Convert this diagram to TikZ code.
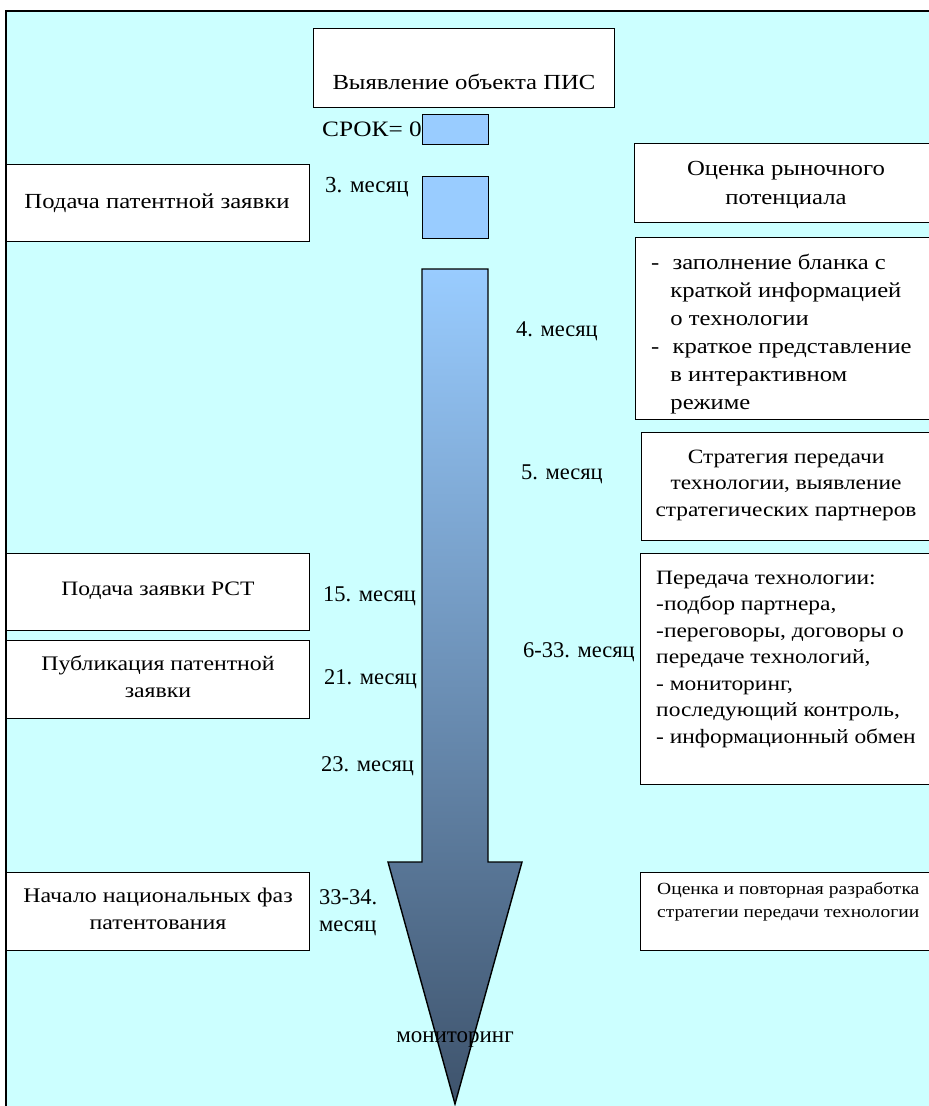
\documentclass[tikz,border=0pt]{standalone}
\usepackage{fontspec}
\setmainfont{Liberation Serif}
\newfontfamily\gar[FakeStretch=1.15]{Liberation Serif}
\definecolor{bgc}{HTML}{CCFFFF}
\definecolor{lblue}{HTML}{99CCFF}
\definecolor{dslate}{HTML}{3E536C}
\begin{document}
\begin{tikzpicture}[x=1pt,y=-1pt,
  box/.style={draw=black,line width=1.4pt,fill=white,inner sep=0pt},
  bluebox/.style={draw=black,line width=1.4pt,fill=lblue,inner sep=0pt},
  txt/.style={inner sep=0pt,align=center},
  mon/.style={inner sep=0pt,font=\fontsize{22.5}{27}\selectfont}]
\useasboundingbox (0,0) rectangle (929,1106);
\clip (0,0) rectangle (929,1106);
\fill[white] (0,0) rectangle (929,1106);
\draw[line width=1.6pt,fill=bgc] (6,11) rectangle (940,1120);
% arrow
\shade[top color=lblue,bottom color=dslate,draw=black,line width=1.4pt]
  (422,269) -- (488,269) -- (488,862) -- (522,862) -- (455,1104) -- (388,862) -- (422,862) -- cycle;
% top
\node[box,minimum width=301,minimum height=79,anchor=north west] (top) at (313,28) {};
\node[txt,font=\gar\fontsize{21.5}{26}\selectfont] (toptext) at (464,82) {Выявление объекта ПИС};
\node[bluebox,minimum width=66,minimum height=30,anchor=north west] (b0) at (422,114) {};
\node[txt,anchor=east,font=\gar\fontsize{22}{26}\selectfont] (srok) at (422,129) {СРОК= 0};
\node[bluebox,minimum width=66,minimum height=62,anchor=north west] (b3) at (422,176) {};
\node[txt,anchor=west,font=\fontsize{23}{26}\selectfont] (m3) at (325,187) {3. месяц};
% left boxes
\node[box,minimum width=303,minimum height=77,anchor=north west] (podacha) at (6,164) {};
\node[txt,font=\gar\fontsize{21.5}{29}\selectfont] (podachatext) at (157,203) {Подача патентной заявки};
\node[box,minimum width=303,minimum height=77,anchor=north west] (pct) at (6,553) {};
\node[txt,font=\gar\fontsize{20.5}{29}\selectfont] (pcttext) at (158,591) {Подача заявки РСТ};
\node[box,minimum width=303,minimum height=78,anchor=north west] (publ) at (6,640) {};
\node[txt,font=\gar\fontsize{20.7}{27}\selectfont] (publtext) at (158,677) {Публикация патентной\\заявки};
\node[box,minimum width=303,minimum height=78,anchor=north west] (nat) at (6,872) {};
\node[txt,font=\gar\fontsize{20.8}{27}\selectfont] (nattext) at (158,909) {Начало национальных фаз\\патентования};
% right boxes
\node[box,minimum width=310,minimum height=79,anchor=north west] (ocenka) at (634,143) {};
\node[txt,font=\gar\fontsize{21.5}{29}\selectfont] (ocenkatext) at (786,185) {Оценка рыночного\\потенциала};
\node[box,minimum width=310,minimum height=182,anchor=north west] (blank) at (635,237) {};
\node[txt,align=left,anchor=west,font=\gar\fontsize{21.4}{28}\selectfont] (blanktext) at (651,334) {-\hspace{0.62em}заполнение бланка с\\\hspace{0.9em}краткой информацией\\\hspace{0.9em}о технологии\\-\hspace{0.62em}краткое представление\\\hspace{0.9em}в интерактивном\\\hspace{0.9em}режиме};
\node[box,minimum width=300,minimum height=108,anchor=north west] (strat) at (641,432) {};
\node[txt,font=\gar\fontsize{20.3}{26.5}\selectfont] (strattext) at (786,485) {Стратегия передачи\\технологии, выявление\\стратегических партнеров};
\node[box,minimum width=300,minimum height=231,anchor=north west] (pered) at (640,553) {};
\node[txt,align=left,anchor=west,font=\gar\fontsize{20.4}{26.5}\selectfont] (peredtext) at (656,659) {Передача технологии:\\-подбор партнера,\\-переговоры, договоры о\\передаче технологий,\\- мониторинг,\\последующий контроль,\\- информационный обмен};
\node[box,minimum width=300,minimum height=78,anchor=north west] (povt) at (640,872) {};
\node[txt,align=left,anchor=west,font=\gar\fontsize{17}{23}\selectfont] (povttext) at (657,902) {Оценка и повторная разработка\\стратегии передачи технологии};
% month labels
\node[mon,anchor=west] (m4) at (516,331) {4. месяц};
\node[mon,anchor=west] (m5) at (521,474) {5. месяц};
\node[mon,anchor=west] (m15) at (323,596) {15. месяц};
\node[mon,anchor=west] (m633) at (523,652) {6-33. месяц};
\node[mon,anchor=west] (m21) at (324,679) {21. месяц};
\node[mon,anchor=west] (m23) at (321,766) {23. месяц};
\node[mon,align=left,anchor=west] (m3334) at (319,913) {33-34.\\месяц};
\node[txt,font=\fontsize{23}{26}\selectfont] (monit) at (455,1040) {мониторинг};
\end{tikzpicture}
\end{document}
